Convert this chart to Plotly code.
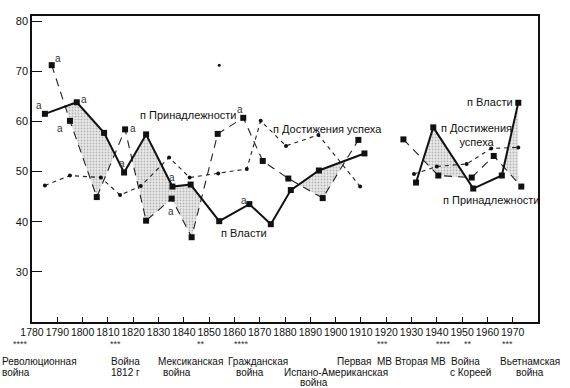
import numpy as np
import plotly.graph_objects as go

# ---------------- data ----------------
power_years = [1785.1, 1797.7, 1808.5, 1816.4, 1825.1, 1835.5, 1842.7, 1854.0, 1865.9, 1874.4,
               1882.3, 1893.4, 1911.4, None, 1931.8, 1938.6, 1954.4, 1965.7, 1972.2]
power_vals = [61.5, 63.8, 57.7, 49.8, 57.4, 47.0, 47.4, 40.1, 43.5, 39.5,
              46.3, 50.2, 53.6, None, 47.8, 58.8, 46.6, 49.2, 63.7]

affil_years = [1787.8, 1795.0, 1805.6, 1816.8, 1825.1, 1835.2, 1843.1, 1853.4, 1863.5, 1871.2,
               1881.3, 1894.9, 1909.0, None, 1926.8, 1940.6, 1953.8, 1962.5, 1973.4]
affil_vals = [71.2, 60.1, 44.9, 58.4, 40.2, 44.6, 36.9, 57.5, 60.7, 52.1,
              48.6, 44.7, 56.3, None, 56.4, 49.2, 48.8, 53.1, 47.0]

achiev_years = [1785.1, 1795.0, 1807.2, 1814.8, 1823.0, 1834.2, 1842.3, 1853.6, 1864.9, 1870.4,
                1880.4, 1893.2, 1909.7, None, 1931.0, 1940.0, 1951.8, 1961.5, 1972.2]
achiev_vals = [47.2, 49.2, 48.8, 45.3, 47.1, 52.8, 48.8, 49.6, 50.5, 60.1,
               55.1, 57.3, 47.0, None, 49.5, 51.0, 51.5, 54.6, 54.8]

stray_year = [1854.0]
stray_val = [71.2]

x_ticks = list(range(1780, 1971, 10))
y_ticks = [30, 40, 50, 60, 70, 80]

# points marked with "a": (series, index)
a_marks = [("power", 0), ("affil", 0), ("power", 1), ("affil", 1), ("affil", 3),
           ("power", 3), ("power", 5), ("affil", 5), ("affil", 8), ("power", 8)]

series_labels = ["п Принадлежности", "п Достижения успеха", "п Власти",
                 "п Власти", "п Достижения<br>успеха", "п Принадлежности"]

war_stars = ["****", "***", "**", "****", "***", "****", "**", "***"]
war_lines = ["Революционная", "война", "Война", "1812 г", "Мексиканская", "война",
             "Гражданская", "война", "Испано-Американская", "война", "Первая  МВ",
             "Вторая МВ", "Война", "с Кореей", "Вьетнамская", "война"]

# ---------------- layout helpers ----------------
W, H = 570, 388
L, R, T, B = 32, 32, 16, 66
PW, PH = W - L - R, H - T - B
FONT = "Liberation Sans, Arial, sans-serif"


def pxp(x):
    return (x - L) / PW


def pyp(y):
    return (H - B - y) / PH


def segments(xs, ys):
    segs, cur = [], []
    for x, y in zip(xs, ys):
        if x is None or y is None:
            if cur:
                segs.append(cur)
            cur = []
        else:
            cur.append((x, y))
    if cur:
        segs.append(cur)
    return [(np.array([p[0] for p in s]), np.array([p[1] for p in s])) for s in segs]


fig = go.Figure()

# shaded area where power exceeds affiliation
for (pxs, pys), (axs, ays) in zip(segments(power_years, power_vals), segments(affil_years, affil_vals)):
    lo, hi = max(pxs[0], axs[0]), min(pxs[-1], axs[-1])
    grid = np.unique(np.concatenate([pxs, axs, [lo, hi]]))
    grid = grid[(grid >= lo) & (grid <= hi)]
    p = np.interp(grid, pxs, pys)
    a = np.interp(grid, axs, ays)
    d = p - a
    xs, ups, lows = [grid[0]], [max(p[0], a[0])], [a[0]]
    for i in range(1, len(grid)):
        if d[i - 1] * d[i] < 0:
            t = d[i - 1] / (d[i - 1] - d[i])
            xc = grid[i - 1] + t * (grid[i] - grid[i - 1])
            ac = a[i - 1] + t * (a[i] - a[i - 1])
            xs.append(xc); ups.append(ac); lows.append(ac)
        xs.append(grid[i]); ups.append(max(p[i], a[i])); lows.append(a[i])
    fig.add_trace(go.Scatter(
        x=list(xs) + list(xs[::-1]), y=list(ups) + list(lows[::-1]),
        mode="lines", fill="toself", line=dict(width=0, color="rgba(0,0,0,0)"),
        fillcolor="rgba(0,0,0,0)",
        fillpattern=dict(shape=".", fgcolor="#808080", bgcolor="#e9e9e9", size=3, solidity=0.3),
        hoverinfo="skip", showlegend=False))

fig.add_trace(go.Scatter(x=achiev_years, y=achiev_vals, mode="lines+markers",
                         line=dict(color="#222", width=1.1, dash="4px,4px"),
                         marker=dict(symbol="circle", size=4, color="#111"),
                         connectgaps=False, showlegend=False))
fig.add_trace(go.Scatter(x=stray_year, y=stray_val, mode="markers",
                         marker=dict(symbol="circle", size=3, color="#111"), showlegend=False))
fig.add_trace(go.Scatter(x=affil_years, y=affil_vals, mode="lines+markers",
                         line=dict(color="#222", width=1.1, dash="8px,6px"),
                         marker=dict(symbol="square", size=6, color="#111"),
                         connectgaps=False, showlegend=False))
fig.add_trace(go.Scatter(x=power_years, y=power_vals, mode="lines+markers",
                         line=dict(color="#111", width=2),
                         marker=dict(symbol="square", size=6, color="#111"),
                         connectgaps=False, showlegend=False))

ann = []
# "a" marks
a_offsets = [(-6, 8), (6, 7), (7, 3), (-10, -8), (8, 1), (-2, 9), (0, 9), (-1, -13), (-3, 8), (-5, 4)]
src = {"power": (power_years, power_vals), "affil": (affil_years, affil_vals)}
for (name, i), (dx, dy) in zip(a_marks, a_offsets):
    xs_, ys_ = src[name]
    ann.append(dict(x=xs_[i], y=ys_[i], xref="x", yref="y", text="a", showarrow=False,
                    xshift=dx, yshift=dy, font=dict(size=10, color="#333", family=FONT)))

# series labels
label_pos = [(188, 115), (327, 129), (244, 233), (490, 102), (476, 135), (491, 200)]
for txt, (x, y) in zip(series_labels, label_pos):
    ann.append(dict(x=pxp(x), y=pyp(y), xref="paper", yref="paper", text=txt, showarrow=False,
                    xanchor="center", yanchor="middle", font=dict(size=11, color="#111", family=FONT)))

# war stars
star_x = [20, 115, 201, 241, 382, 443, 468, 507]
for txt, x in zip(war_stars, star_x):
    ann.append(dict(x=pxp(x), y=pyp(344), xref="paper", yref="paper", text=txt, showarrow=False,
                    xanchor="center", yanchor="middle", font=dict(size=9, color="#333", family=FONT)))

# war names
war_pos = [(0, 361, "left"), (0, 372, "left"), (125, 361, "center"), (125, 372, "center"),
           (190, 361, "center"), (177, 372, "center"), (258, 361, "center"), (250, 372, "center"),
           (336, 372, "center"), (314, 382, "center"), (394, 361, "right"),
           (420, 361, "center"), (449, 361, "left"), (470, 372, "center"),
           (530, 361, "center"), (530, 372, "center")]
for txt, (x, y, anc) in zip(war_lines, war_pos):
    ann.append(dict(x=pxp(x), y=pyp(y), xref="paper", yref="paper", text=txt, showarrow=False,
                    xanchor=anc, yanchor="middle", font=dict(size=10, color="#111", family=FONT)))

fig.update_layout(
    width=W, height=H, margin=dict(l=L, r=R, t=T, b=B, autoexpand=False),
    paper_bgcolor="white", plot_bgcolor="white",
    font=dict(family=FONT, size=11, color="#111"),
    annotations=ann, showlegend=False,
    xaxis=dict(range=[1780, 1980], tickvals=x_ticks, ticks="inside", ticklen=5, tickcolor="#111",
               showline=True, linecolor="#111", linewidth=1.5, mirror=True, showgrid=False,
               zeroline=False, tickfont=dict(size=10.5), tickangle=0, automargin=False),
    yaxis=dict(range=[20, 81], tickvals=y_ticks, ticks="inside", ticklen=10, tickcolor="#111",
               showline=True, linecolor="#111", linewidth=1.5, mirror=True, showgrid=False,
               zeroline=False, tickfont=dict(size=11), automargin=False),
)

fig.write_html("out.html", config={"displayModeBar": False},
               post_script="document.body.style.margin='0';document.body.style.overflow='hidden';")
